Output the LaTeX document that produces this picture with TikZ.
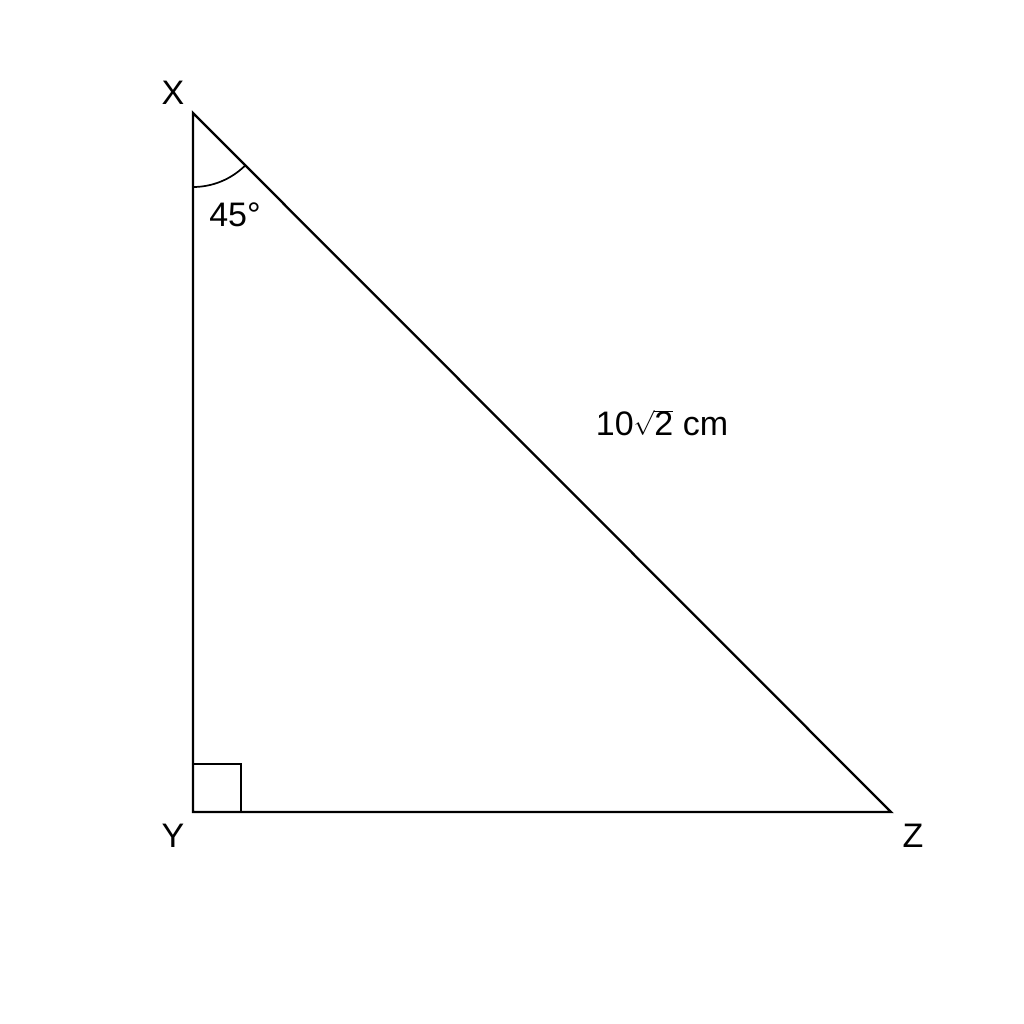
\documentclass[tikz,border=0pt]{standalone}
\usepackage{fontspec}
\setmainfont{Liberation Sans}
\begin{document}
\begin{tikzpicture}[x=1pt,y=-1pt,
  lbl/.style={font=\fontsize{34}{40}\selectfont, inner sep=0pt},
  side/.style={line width=2.3pt, line join=miter},
  thin/.style={line width=1.7pt}]
\useasboundingbox (0,0) rectangle (1024,1024);
\fill[white] (0,0) rectangle (1024,1024);
\coordinate (X) at (193,113);
\coordinate (Y) at (193,812);
\coordinate (Z) at (891,812);
\coordinate (A1) at (193,187);
\coordinate (S1) at (193,764);
\coordinate (S2) at (241,764);
\coordinate (S3) at (241,812);
\draw[thin] (S1) -- (S2) -- (S3);
\draw[thin] (A1) arc[start angle=90, end angle=45, radius=74];
\draw[side] (X) -- (Y) -- (Z) -- cycle;
\node[lbl] (lX) at (173,93) {X};
\node[lbl] (lY) at (173,836) {Y};
\node[lbl] (lZ) at (913,836) {Z};
\node[lbl] (ang) at (235,215) {45°};
\node[lbl] (hyp) at (662,423) {10$\sqrt{\mbox{2}}$ cm};
\end{tikzpicture}
\end{document}
